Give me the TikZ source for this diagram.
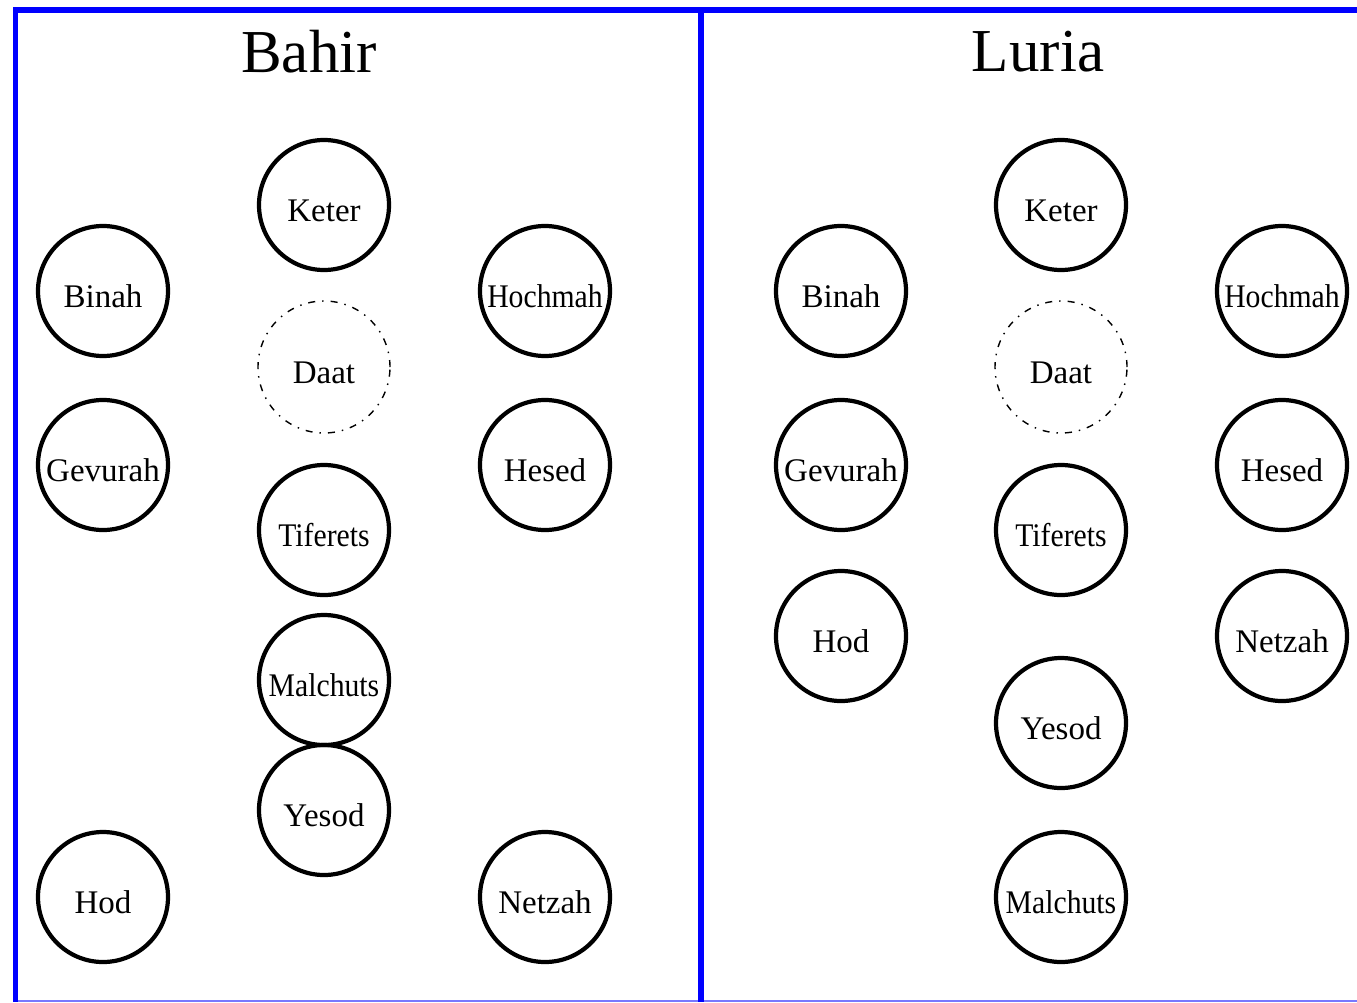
\documentclass[tikz,border=0pt]{standalone}
\usepackage{fontspec}
\usepackage{graphicx}
\setmainfont{Liberation Serif}
\definecolor{frameblue}{RGB}{0,0,255}
\definecolor{lightblue}{RGB}{120,120,255}
\newcommand{\narrow}[2]{\scalebox{#1}[1]{#2}}
\begin{document}
\begin{tikzpicture}[x=1pt,y=-1pt,
  sefira/.style={circle,draw=black,line width=4.2pt,minimum size=130pt,inner sep=0pt,
    text height=33pt,text depth=0pt,
    font=\fontsize{33}{33}\selectfont},
  hidden/.style={circle,draw=black,line width=1.4pt,minimum size=132pt,inner sep=0pt,
    text height=33pt,text depth=0pt,
    dash pattern=on 7pt off 7pt on 1.5pt off 7pt,
    font=\fontsize{33}{33}\selectfont},
  title/.style={font=\fontsize{61}{61}\selectfont,inner sep=0pt},
  frame/.style={draw=frameblue,line width=6pt}]
\useasboundingbox (0,0) rectangle (1357,1002);
\fill[white] (0,0) rectangle (1357,1002);
% frame
\draw[draw=lightblue,line width=1.5pt] (15,1001) -- (1357,1001);
\draw[frame] (15,10) -- (1357,10);
\draw[frame,line width=5.5pt] (15.5,7) -- (15.5,1002);
\draw[frame] (701,7) -- (701,1002);
% titles
\node[title] (tB) at (309,52) {Bahir};
\node[title] (tL) at (1038,52) {Luria};
% Bahir
\node[sefira] (bKeter) at (324,205) {Keter};
\node[sefira] (bBinah) at (103,291) {Binah};
\node[sefira] (bHochmah) at (545,291) {\narrow{0.9}{Hochmah}};
\node[hidden] (bDaat) at (324,367) {Daat};
\node[sefira] (bGevurah) at (103,465) {Gevurah};
\node[sefira] (bHesed) at (545,465) {Hesed};
\node[sefira] (bTiferets) at (324,530) {\narrow{0.9}{Tiferets}};
\node[sefira] (bMalchuts) at (324,680) {\narrow{0.9}{Malchuts}};
\node[sefira] (bYesod) at (324,810) {Yesod};
\node[sefira] (bHod) at (103,897) {Hod};
\node[sefira] (bNetzah) at (545,897) {Netzah};
% Luria
\node[sefira] (lKeter) at (1061,205) {Keter};
\node[sefira] (lBinah) at (841,291) {Binah};
\node[sefira] (lHochmah) at (1282,291) {\narrow{0.9}{Hochmah}};
\node[hidden] (lDaat) at (1061,367) {Daat};
\node[sefira] (lGevurah) at (841,465) {Gevurah};
\node[sefira] (lHesed) at (1282,465) {Hesed};
\node[sefira] (lTiferets) at (1061,530) {\narrow{0.9}{Tiferets}};
\node[sefira] (lHod) at (841,636) {Hod};
\node[sefira] (lNetzah) at (1282,636) {Netzah};
\node[sefira] (lYesod) at (1061,723) {Yesod};
\node[sefira] (lMalchuts) at (1061,897) {\narrow{0.9}{Malchuts}};
\end{tikzpicture}
\end{document}
